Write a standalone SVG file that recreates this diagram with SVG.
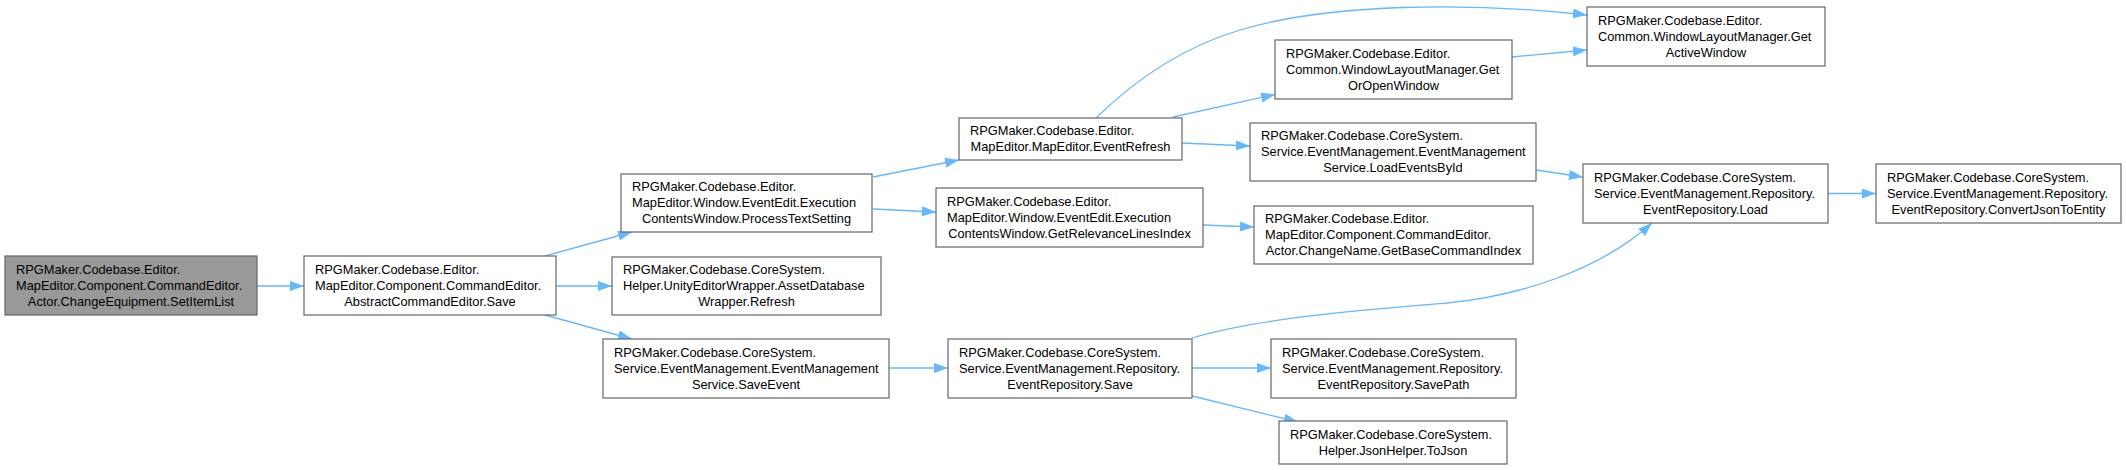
<svg xmlns="http://www.w3.org/2000/svg" width="2126" height="470" viewBox="0 0 2126 470">
<style>
.n rect{fill:#ffffff;stroke:#666666;stroke-width:1.2}
.n.g rect{fill:#999999}
.n text{font-family:"Liberation Sans",Arial,sans-serif;font-size:12.8px;fill:#000000}
.n text.c{text-anchor:middle}
.e path{fill:none;stroke:#63b8ff;stroke-width:1.3;marker-end:url(#a)}
</style>
<defs>
<marker id="a" markerUnits="userSpaceOnUse" markerWidth="14" markerHeight="10" viewBox="0 0 14 10" refX="14" refY="5" orient="auto">
<path d="M0,0 L14,5 L0,10 z" fill="#63b8ff"/>
</marker>
</defs>
<rect width="2126" height="470" fill="#ffffff"/>
<g id="edges" class="e">
<path d="M257,286 L304,286"/>
<path d="M545,256 L632,232"/>
<path d="M556,286 L612,286"/>
<path d="M545,315 L632,339"/>
<path d="M873,177 L959,160"/>
<path d="M873,209 L936,212"/>
<path d="M889,368 L948,368"/>
<path d="M1173,117 L1275,94.5"/>
<path d="M1096,118 C1140,75 1190,45 1240,30 C1330,3 1470,2 1587,15"/>
<path d="M1182,143 L1250,146"/>
<path d="M1512,57 L1587,50"/>
<path d="M1536,170 L1583,177"/>
<path d="M1203,225 L1254,227"/>
<path d="M1192,338 C1260,318 1360,310 1447,303 C1520,296 1600,270 1652,223"/>
<path d="M1192,368 L1271,368"/>
<path d="M1192,396 L1298,422"/>
<path d="M1828,193.5 L1876,193.5"/>
</g>
<g id="n1" class="n g"><rect x="5" y="256" width="252" height="59"/><text x="16" y="273.5">RPGMaker.Codebase.Editor.</text><text x="16" y="289.5">MapEditor.Component.CommandEditor.</text><text class="c" x="131" y="305.5">Actor.ChangeEquipment.SetItemList</text></g>
<g id="n2" class="n"><rect x="304" y="256" width="252" height="59"/><text x="315" y="273.5">RPGMaker.Codebase.Editor.</text><text x="315" y="289.5">MapEditor.Component.CommandEditor.</text><text class="c" x="430" y="305.5">AbstractCommandEditor.Save</text></g>
<g id="n3" class="n"><rect x="621" y="174" width="251" height="58"/><text x="632" y="191">RPGMaker.Codebase.Editor.</text><text x="632" y="207">MapEditor.Window.EventEdit.Execution</text><text class="c" x="746.5" y="223">ContentsWindow.ProcessTextSetting</text></g>
<g id="n4" class="n"><rect x="612" y="257" width="269" height="58"/><text x="623" y="274">RPGMaker.Codebase.CoreSystem.</text><text x="623" y="290">Helper.UnityEditorWrapper.AssetDatabase</text><text class="c" x="746.5" y="306">Wrapper.Refresh</text></g>
<g id="n5" class="n"><rect x="603" y="339" width="286" height="59"/><text x="614" y="356.5">RPGMaker.Codebase.CoreSystem.</text><text x="614" y="372.5">Service.EventManagement.EventManagement</text><text class="c" x="746" y="388.5">Service.SaveEvent</text></g>
<g id="n6" class="n"><rect x="959" y="118" width="223" height="42"/><text x="970" y="135">RPGMaker.Codebase.Editor.</text><text class="c" x="1070.5" y="151">MapEditor.MapEditor.EventRefresh</text></g>
<g id="n7" class="n"><rect x="1250" y="123" width="286" height="58"/><text x="1261" y="140">RPGMaker.Codebase.CoreSystem.</text><text x="1261" y="156">Service.EventManagement.EventManagement</text><text class="c" x="1393" y="172">Service.LoadEventsById</text></g>
<g id="n8" class="n"><rect x="936" y="188" width="267" height="59"/><text x="947" y="205.5">RPGMaker.Codebase.Editor.</text><text x="947" y="221.5">MapEditor.Window.EventEdit.Execution</text><text class="c" x="1069.5" y="237.5">ContentsWindow.GetRelevanceLinesIndex</text></g>
<g id="n9" class="n"><rect x="1254" y="206" width="279" height="58"/><text x="1265" y="223">RPGMaker.Codebase.Editor.</text><text x="1265" y="239">MapEditor.Component.CommandEditor.</text><text class="c" x="1393.5" y="255">Actor.ChangeName.GetBaseCommandIndex</text></g>
<g id="n10" class="n"><rect x="948" y="339" width="244" height="59"/><text x="959" y="356.5">RPGMaker.Codebase.CoreSystem.</text><text x="959" y="372.5">Service.EventManagement.Repository.</text><text class="c" x="1070" y="388.5">EventRepository.Save</text></g>
<g id="n11" class="n"><rect x="1271" y="339" width="245" height="59"/><text x="1282" y="356.5">RPGMaker.Codebase.CoreSystem.</text><text x="1282" y="372.5">Service.EventManagement.Repository.</text><text class="c" x="1393.5" y="388.5">EventRepository.SavePath</text></g>
<g id="n12" class="n"><rect x="1279" y="421" width="228" height="43"/><text x="1290" y="438.5">RPGMaker.Codebase.CoreSystem.</text><text class="c" x="1393" y="454.5">Helper.JsonHelper.ToJson</text></g>
<g id="n13" class="n"><rect x="1275" y="40" width="237" height="59"/><text x="1286" y="57.5">RPGMaker.Codebase.Editor.</text><text x="1286" y="73.5">Common.WindowLayoutManager.Get</text><text class="c" x="1393.5" y="89.5">OrOpenWindow</text></g>
<g id="n14" class="n"><rect x="1587" y="7" width="238" height="59"/><text x="1598" y="24.5">RPGMaker.Codebase.Editor.</text><text x="1598" y="40.5">Common.WindowLayoutManager.Get</text><text class="c" x="1706" y="56.5">ActiveWindow</text></g>
<g id="n15" class="n"><rect x="1583" y="164" width="245" height="59"/><text x="1594" y="181.5">RPGMaker.Codebase.CoreSystem.</text><text x="1594" y="197.5">Service.EventManagement.Repository.</text><text class="c" x="1705.5" y="213.5">EventRepository.Load</text></g>
<g id="n16" class="n"><rect x="1876" y="164" width="245" height="59"/><text x="1887" y="181.5">RPGMaker.Codebase.CoreSystem.</text><text x="1887" y="197.5">Service.EventManagement.Repository.</text><text class="c" x="1998.5" y="213.5">EventRepository.ConvertJsonToEntity</text></g>
</svg>
